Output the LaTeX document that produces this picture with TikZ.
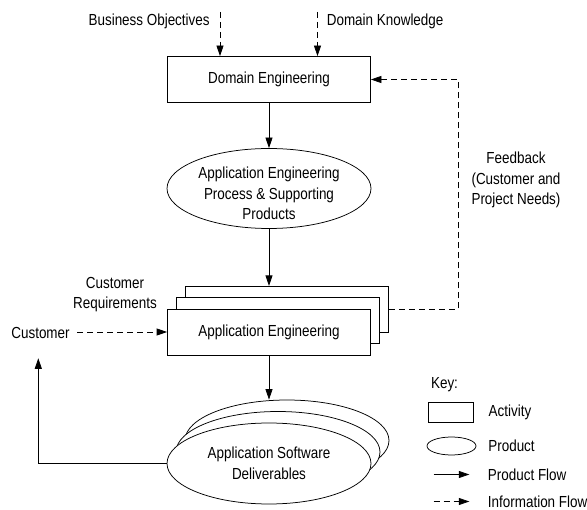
\documentclass[tikz,border=0pt]{standalone}
\usepackage{fontspec}
\setmainfont{Liberation Sans}[FakeStretch=0.84]
\usetikzlibrary{arrows.meta,shapes.geometric}
\begin{document}
\begin{tikzpicture}[x=1pt,y=-1pt,
  font=\fontsize{16}{20.5}\selectfont,
  line width=0.75pt,
  act/.style={draw, fill=white, minimum width=203pt, minimum height=46pt, inner sep=0pt},
  prod/.style={draw, fill=white, ellipse, minimum width=204pt, minimum height=81pt, inner sep=0pt},
  pflow/.style={-{Triangle[length=10.5pt,width=7pt]}},
  iflow/.style={pflow, dash pattern=on 6pt off 4pt},
  lbl/.style={inner sep=0pt, align=center}]

\useasboundingbox (0,0) rectangle (587,510);

% top inputs
\node[lbl, anchor=east] (bo) at (210,21.5) {Business Objectives};
\node[lbl, anchor=west] (dk) at (326.5,21.5) {Domain Knowledge};
\coordinate (boS) at (220,12);
\coordinate (dkS) at (317.5,12);

% domain engineering
\node[act] (de) at (269,79.5) {Domain Engineering};
\draw[iflow] (boS) -- (boS |- de.north);
\draw[iflow] (dkS) -- (dkS |- de.north);

% process ellipse
\node[prod, minimum height=80pt,
  label={[lbl, yshift=-5pt]center:Application Engineering\\Process \& Supporting\\Products}] (pe) at (269,188.5) {};
\draw[pflow] (de.south) -- (de.south |- pe.north);

% application engineering stack
\node[act] (ae3) at (287,309.3) {};
\node[act] (ae2) at (278,320.6) {};
\node[act] (ae1) at (269,332) {Application Engineering};
\draw[pflow] (pe.south) -- (pe.south |- ae3.north);

% feedback
\coordinate (fb) at (458,309.3);
\draw[iflow] (ae3.east) -- (fb) |- (de.east);
\node[lbl] (fbt) at (516,180) {Feedback\\(Customer and\\Project Needs)};

% customer
\node[lbl] (cr) at (115,294.5) {Customer\\Requirements};
\node[lbl, anchor=east] (cu) at (70,332.6) {Customer};
\draw[iflow] ([xshift=7pt]cu.east |- ae1.west) -- (ae1.west);

% deliverables stack
\node[prod] (ap3) at (287,440.5) {};
\node[prod] (ap2) at (278,452) {};
\node[prod, align=center] (ap1) at (269,463.5) {Application Software\\Deliverables};
\draw[pflow] (ae1.south) -- (ae1.south |- ap3.north);

% return to customer
\coordinate (ret) at (38.3,358.3);
\draw[pflow] (ap1.west) -| (ret);

% key
\node[lbl, anchor=west] (key) at (430.7,384.3) {Key:};
\node[draw, minimum width=45pt, minimum height=20pt, inner sep=0pt] (ka) at (450.8,412.3) {};
\node[lbl, anchor=west] (kat) at (488.3,412.5) {Activity};
\node[draw, ellipse, minimum width=49pt, minimum height=18pt, inner sep=0pt] (kp) at (451.5,446) {};
\node[lbl, anchor=west] (kpt) at (488,446) {Product};
\coordinate (kf1) at (433.7,474.5);
\coordinate (kf2) at (469.3,474.5);
\draw[pflow] (kf1) -- (kf2);
\node[lbl, anchor=west] (kft) at (487.6,474.8) {Product Flow};
\coordinate (ki1) at (433.7,501.5);
\coordinate (ki2) at (469.3,501.5);
\draw[iflow] (ki1) -- (ki2);
\node[lbl, anchor=west] (kit) at (487.6,502) {Information Flow};
\end{tikzpicture}
\end{document}
